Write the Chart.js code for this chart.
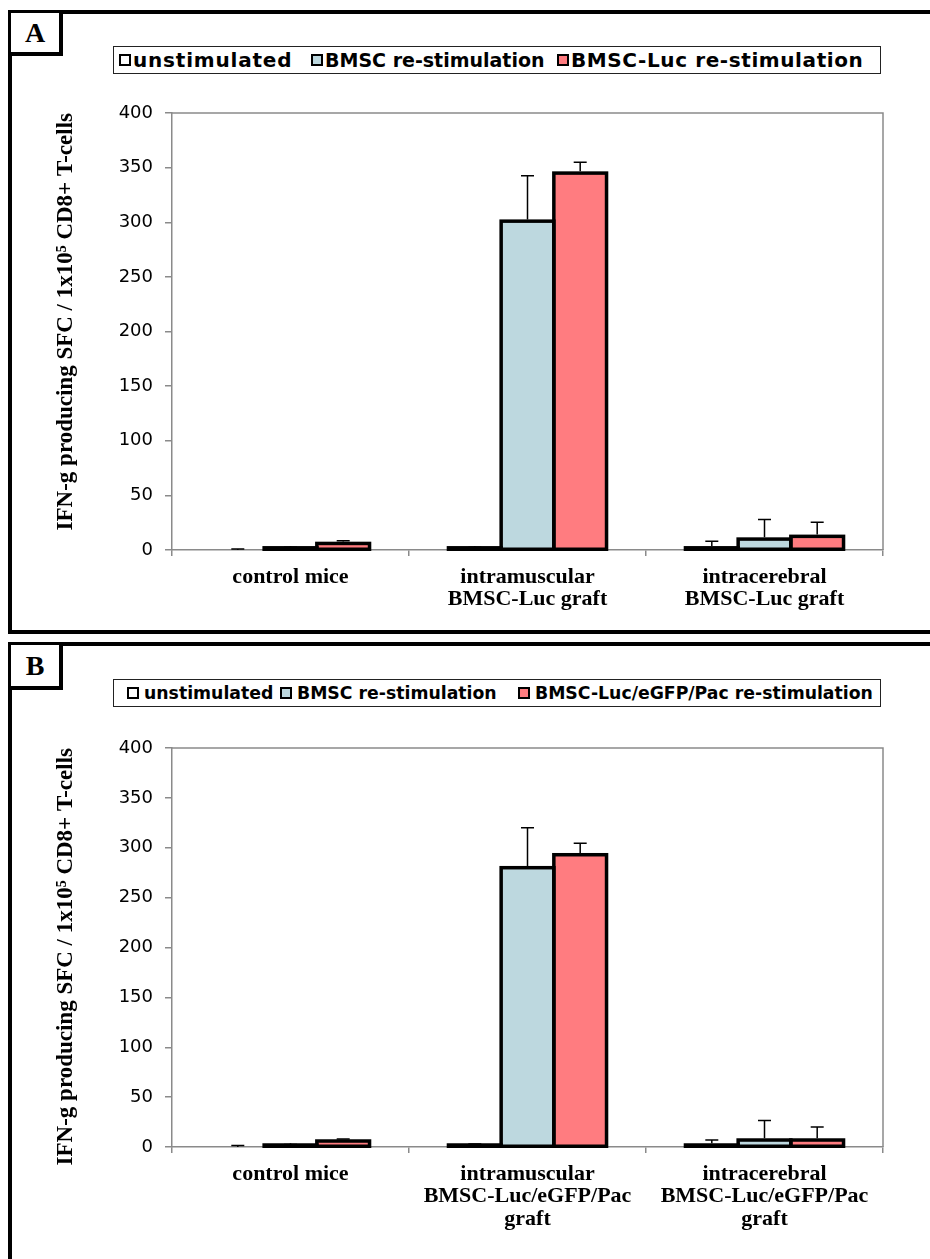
<!DOCTYPE html>
<html><head><meta charset="utf-8">
<script src="https://cdn.jsdelivr.net/npm/chart.js@4.4.1/dist/chart.umd.min.js"></script>
<style>
html,body{margin:0;padding:0;background:#fff;width:930px;height:1259px;overflow:hidden;position:relative;}
.panel{position:absolute;border:4px solid #000;box-sizing:border-box;}
.tag{position:absolute;box-sizing:border-box;border:3px solid #000;border-right-width:4px;border-bottom-width:4px;background:#fff;font:bold 28px "Liberation Serif","Times New Roman",serif;display:flex;align-items:center;justify-content:center;color:#000;}
.legend{position:absolute;box-sizing:border-box;border:1.5px solid #222;background:#fff;font-family:"DejaVu Sans",Verdana,sans-serif;font-weight:bold;color:#000;}
.item{position:absolute;top:0;height:100%;display:flex;align-items:center;white-space:nowrap;}
.sw{display:inline-block;width:8px;height:8px;border:2px solid #000;}
canvas{position:absolute;}
</style></head>
<body>
<div class="panel" style="left:8px;top:10px;width:950px;height:624px;"></div>
<div class="tag" style="left:8px;top:10px;width:55px;height:46px;">A</div>
<div class="legend" id="legA" style="left:113px;top:46px;width:768px;height:28px;font-size:20px;"></div>
<canvas id="cA" width="914" height="550" style="left:12px;top:80px;"></canvas>

<div class="panel" style="left:8px;top:642px;width:950px;height:700px;"></div>
<div class="tag" style="left:8px;top:642px;width:55px;height:48px;">B</div>
<div class="legend" id="legB" style="left:113px;top:679px;width:768px;height:28px;font-size:17.3px;"></div>
<canvas id="cB" width="914" height="547" style="left:12px;top:712px;"></canvas>

<script>
// ---- data ----
const categoriesA = ['control mice', ['intramuscular', 'BMSC-Luc graft'], ['intracerebral', 'BMSC-Luc graft']];
const categoriesB = ['control mice', ['intramuscular', 'BMSC-Luc/eGFP/Pac', 'graft'], ['intracerebral', 'BMSC-Luc/eGFP/Pac', 'graft']];
const seriesNamesA = ['unstimulated', 'BMSC re-stimulation', 'BMSC-Luc re-stimulation'];
const seriesNamesB = ['unstimulated', 'BMSC re-stimulation', 'BMSC-Luc/eGFP/Pac re-stimulation'];

const unstimA = [0, 2, 2];
const unstimErrA = [1, 0.5, 6];
const bmscA = [2, 301, 10];
const bmscErrA = [0.5, 41.5, 18];
const lucA = [6, 345, 12.5];
const lucErrA = [2.5, 10, 13];

const unstimB = [0, 2, 2];
const unstimErrB = [1.5, 1, 5];
const bmscB = [2, 280, 7];
const bmscErrB = [0.5, 40, 19.5];
const lucB = [6, 293, 7];
const lucErrB = [2, 11.5, 13];

const yTickValues = [0, 50, 100, 150, 200, 250, 300, 350, 400];
const yTitle = 'IFN-g producing SFC / 1x10\u2075 CD8+ T-cells';

// ---- styles ----
const seriesColors = ['#FFFFFF', '#BDD8DF', '#FF7C80'];
const axisGray = '#8a8a8a';
const serif = '"Liberation Serif", "Times New Roman", serif';
const sans = '"DejaVu Sans", Verdana, sans-serif';

function buildLegend(id, names, lefts, gap, textStyles) {
  const el = document.getElementById(id);
  names.forEach((n, i) => {
    const it = document.createElement('div');
    it.className = 'item';
    it.style.left = lefts[i] + 'px';
    const sw = document.createElement('span');
    sw.className = 'sw';
    sw.style.background = seriesColors[i];
    sw.style.marginRight = gap + 'px';
    it.appendChild(sw);
    const t = document.createElement('span');
    t.textContent = n;
    Object.assign(t.style, textStyles[i] || {});
    it.appendChild(t);
    el.appendChild(it);
  });
}
buildLegend('legA', seriesNamesA, [5, 197, 443], 2,
  [{letterSpacing: '0.8px'}, {fontSize: '19px'}, {letterSpacing: '0.6px'}]);
buildLegend('legB', seriesNamesB, [13, 166, 404], 5, [{}, {}, {}]);

// Excel-like outline: stroke centred on the bar edge
const barOutline = {
  id: 'barOutline',
  afterDatasetsDraw(chart) {
    const ctx = chart.ctx;
    ctx.save();
    ctx.strokeStyle = '#000';
    ctx.lineWidth = 3.5;
    ctx.lineJoin = 'miter';
    chart.data.datasets.forEach((ds, d) => {
      chart.getDatasetMeta(d).data.forEach((bar) => {
        const p = bar.getProps(['x', 'y', 'base', 'width'], true);
        if (Math.abs(p.base - p.y) < 0.01) return;
        ctx.strokeRect(p.x - p.width / 2, Math.min(p.y, p.base), p.width, Math.abs(p.base - p.y));
      });
    });
    ctx.restore();
  }
};

const errorBars = {
  id: 'errorBars',
  afterDatasetsDraw(chart) {
    const ctx = chart.ctx;
    const y = chart.scales.y;
    ctx.save();
    ctx.strokeStyle = '#000';
    ctx.lineWidth = 1.5;
    chart.data.datasets.forEach((ds, d) => {
      const meta = chart.getDatasetMeta(d);
      meta.data.forEach((bar, i) => {
        const e = ds.errors[i];
        if (!e) return;
        const top = y.getPixelForValue(ds.data[i] + e);
        const base = ds.data[i] ? bar.y - 1.75 : bar.y;
        ctx.beginPath();
        ctx.moveTo(bar.x, base);
        ctx.lineTo(bar.x, top);
        ctx.moveTo(bar.x - 6.5, top);
        ctx.lineTo(bar.x + 6.5, top);
        ctx.stroke();
      });
    });
    ctx.restore();
  }
};

const plotFrame = {
  id: 'plotFrame',
  beforeDatasetsDraw(chart) {
    const {ctx, chartArea: a} = chart;
    ctx.save();
    ctx.strokeStyle = axisGray;
    ctx.lineWidth = 1.5;
    ctx.beginPath();
    ctx.moveTo(a.left, a.top);
    ctx.lineTo(a.right, a.top);
    ctx.lineTo(a.right, a.bottom);
    ctx.stroke();
    ctx.restore();
  }
};

function makeChart(id, cats, names, vals, errs, padTop, xHeight) {
  const datasets = names.map((n, i) => ({
    label: n,
    data: vals[i],
    errors: errs[i],
    backgroundColor: seriesColors[i],
    borderColor: '#000',
    borderWidth: 0,
    inflateAmount: 0,
    categoryPercentage: 0.667,
    barPercentage: 1.0
  }));
  return new Chart(document.getElementById(id), {
    type: 'bar',
    data: {labels: cats, datasets},
    options: {
      responsive: false,
      animation: false,
      devicePixelRatio: 1,
      layout: {padding: {top: padTop, right: 43, left: 0, bottom: 0}},
      plugins: {legend: {display: false}, tooltip: {enabled: false}},
      scales: {
        x: {
          afterFit(s) { s.height = xHeight; },
          grid: {drawOnChartArea: false, drawTicks: true, tickLength: 6, color: axisGray, lineWidth: 1.5, offset: true},
          border: {color: axisGray, width: 1.5},
          ticks: {color: '#000', padding: 10, maxRotation: 0, autoSkip: false,
            font: {family: serif, weight: 'bold', size: 22, lineHeight: 1.02}}
        },
        y: {
          min: yTickValues[0],
          max: yTickValues[yTickValues.length - 1],
          afterFit(s) { s.width = 160; },
          afterBuildTicks(s) { s.ticks = yTickValues.map(v => ({value: v})); },
          grid: {drawOnChartArea: false, drawTicks: true, tickLength: 7, color: axisGray, lineWidth: 1.5},
          border: {color: axisGray, width: 1.5},
          ticks: {color: '#000', padding: 12, font: {family: sans, size: 18}},
          title: {display: true, text: yTitle, color: '#000', align: 'end',
            font: {family: serif, weight: 'bold', size: 23, lineHeight: 1.2},
            padding: {top: 40, bottom: 0}}
        }
      }
    },
    plugins: [plotFrame, barOutline, errorBars]
  });
}

makeChart('cA', categoriesA, seriesNamesA, [unstimA, bmscA, lucA], [unstimErrA, bmscErrA, lucErrA], 33, 80);
makeChart('cB', categoriesB, seriesNamesB, [unstimB, bmscB, lucB], [unstimErrB, bmscErrB, lucErrB], 36, 112);
</script>
</body></html>
